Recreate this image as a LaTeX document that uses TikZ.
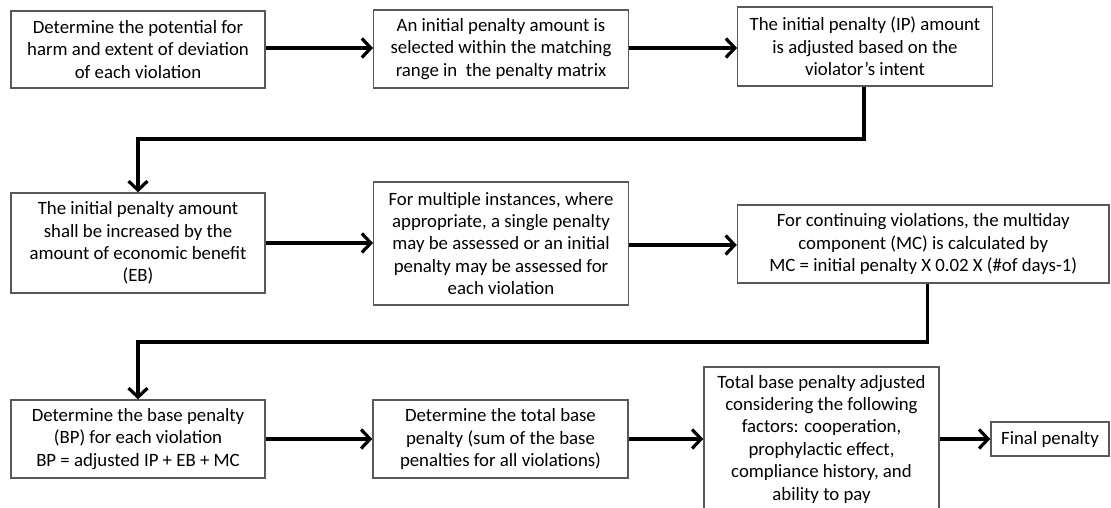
\documentclass[tikz,border=0pt]{standalone}
\usepackage{fontspec}
\setmainfont{Carlito}
\usetikzlibrary{arrows.meta}
\begin{document}
\begin{tikzpicture}[x=1pt,y=-1pt,
  box/.style={draw=black!65, line width=1.4pt, fill=white, align=center, inner sep=0pt,
    font=\fontsize{18.8}{22.4}\selectfont},
  conn/.style={line width=3.8pt, black, -{Straight Barb[length=9pt,width=19pt,line width=3.2pt]}},
  turn/.style={line width=3.8pt, black, line join=miter, -{Straight Barb[length=9pt,width=19pt,line width=3.2pt]}}]
\useasboundingbox (0,0) rectangle (1111,508);
% boxes
\node[box, minimum width=254pt, minimum height=77pt] (b1) at (138,49.5)
  {Determine the potential for\\harm and extent of deviation\\of each violation};
\node[box, minimum width=254.5pt, minimum height=78pt] (b2) at (501,49)
  {An initial penalty amount is\\selected within the matching\\range in\ \ the penalty matrix};
\node[box, minimum width=254.5pt, minimum height=79pt] (b3) at (865,46.5)
  {The initial penalty (IP) amount\\is adjusted based on the\\violator’s intent};
\node[box, minimum width=254pt, minimum height=100pt] (b4) at (138,243)
  {The initial penalty amount\\shall be increased by the\\amount of economic benefit\\(EB)};
\node[box, minimum width=254.5pt, minimum height=123pt] (b5) at (501,243.5)
  {For multiple instances, where\\appropriate, a single penalty\\may be assessed or an initial\\penalty may be assessed for\\each violation};
\node[box, minimum width=371.5pt, minimum height=78pt] (b6) at (923.25,244)
  {For continuing violations, the multiday\\component (MC) is calculated by\\MC = initial penalty X 0.02 X (\#of days-1)};
\node[box, minimum width=254pt, minimum height=78pt] (b7) at (138,439)
  {Determine the base penalty\\(BP) for each violation\\BP = adjusted IP + EB + MC};
\node[box, minimum width=255pt, minimum height=78pt] (b8) at (500.5,439)
  {Determine the total base\\penalty (sum of the base\\penalties for all violations)};
\node[box, minimum width=235pt, minimum height=144pt] (b9) at (821.5,439)
  {Total base penalty adjusted\\considering the following\\factors: cooperation,\\prophylactic effect,\\compliance history, and\\ability to pay};
\node[box, minimum width=118pt, minimum height=34pt] (b10) at (1050,439)
  {Final penalty};
% connectors
\coordinate (k1) at (864,139.3);
\coordinate (k2) at (927.5,341.7);
\draw[conn] (b1.east |- 0,48) -- (b2.west |- 0,48);
\draw[conn] (b2.east |- 0,48) -- (b3.west |- 0,48);
\draw[turn] (b3.south -| k1) -- (k1) -| (b4.north);
\draw[conn] (b4.east) -- (b5.west |- b4.east);
\draw[conn] (b5.east |- 0,245) -- (b6.west |- 0,245);
\draw[turn] (b6.south -| k2) -- (k2) -| (b7.north);
\draw[conn] (b7.east) -- (b8.west);
\draw[conn] (b8.east) -- (b9.west);
\draw[conn] (b9.east) -- (b10.west);
\end{tikzpicture}
\end{document}
